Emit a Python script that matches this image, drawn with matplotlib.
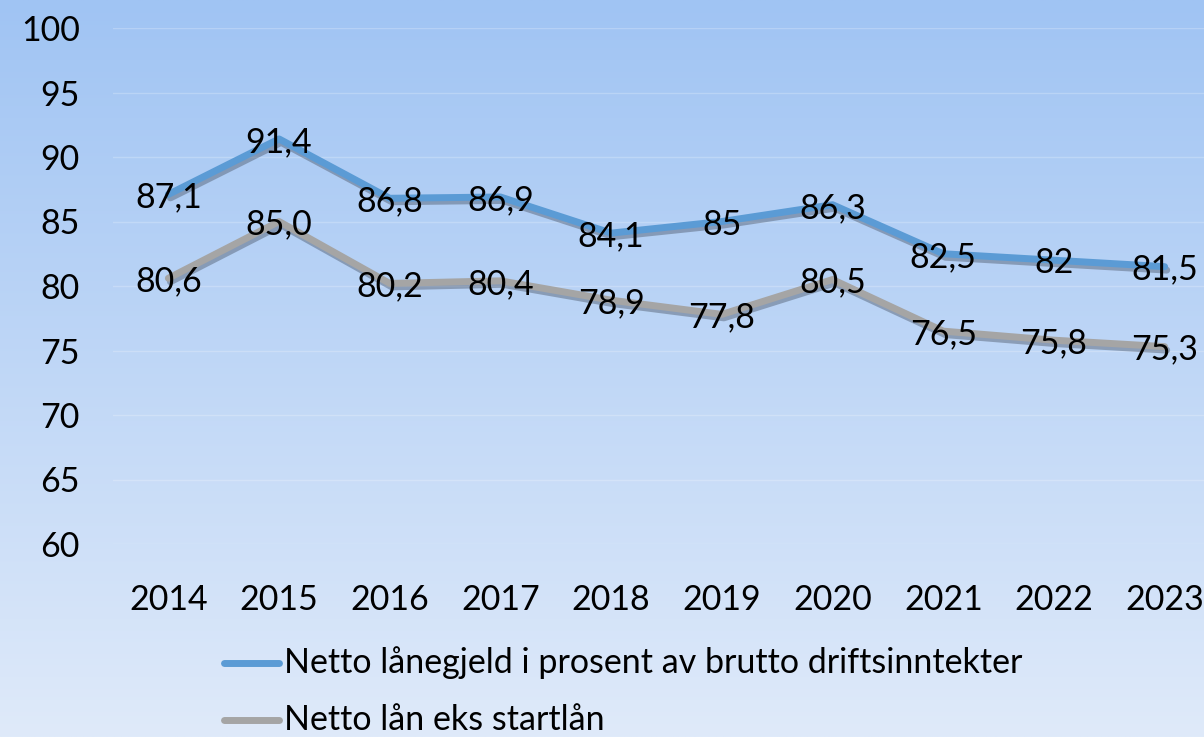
import numpy as np
import matplotlib
matplotlib.use("Agg")
import matplotlib.pyplot as plt
import matplotlib.patheffects as pe

years = ["2014", "2015", "2016", "2017", "2018", "2019", "2020", "2021", "2022", "2023"]
netto_lanegjeld = [87.1, 91.4, 86.8, 86.9, 84.1, 85.0, 86.3, 82.5, 82.0, 81.5]
netto_lanegjeld_labels = ["87,1", "91,4", "86,8", "86,9", "84,1", "85", "86,3", "82,5", "82", "81,5"]
netto_lan_eks = [80.6, 85.0, 80.2, 80.4, 78.9, 77.8, 80.5, 76.5, 75.8, 75.3]
netto_lan_eks_labels = ["80,6", "85,0", "80,2", "80,4", "78,9", "77,8", "80,5", "76,5", "75,8", "75,3"]
series_names = ["Netto lånegjeld i prosent av brutto driftsinntekter", "Netto lån eks startlån"]
yticks = [60, 65, 70, 75, 80, 85, 90, 95, 100]

plt.rcParams['font.family'] = ['Lato', 'DejaVu Sans']
FS = 24.5

W, H = 1204, 737
fig = plt.figure(figsize=(W / 100, H / 100), dpi=100)

# gradient background
bg = fig.add_axes([0, 0, 1, 1], zorder=-10)
top = np.array([160, 196, 243]) / 255
bot = np.array([223, 234, 250]) / 255
t = np.linspace(0, 1, 256)[:, None]
grad = top[None, :] * (1 - t) + bot[None, :] * t
bg.imshow(grad[:, None, :].repeat(4, axis=1), aspect='auto', extent=[0, 1, 0, 1])
bg.set_axis_off()

left = 113 / W
right_px = 1220
ax_bottom = 1 - 544 / H
ax_top = 1 - 28 / H
ax = fig.add_axes([left, ax_bottom, (right_px - 113) / W, ax_top - ax_bottom])
ax.patch.set_alpha(0)
ax.set_ylim(60, 100)
ax.set_xlim(-0.5, len(years) - 0.5)
ax.set_yticks(yticks)
ax.set_yticklabels([str(v) for v in yticks], fontsize=FS)
ax.set_xticks(range(len(years)))
ax.set_xticklabels(years, fontsize=FS)
ax.tick_params(axis='both', length=0)
ax.tick_params(axis='x', pad=29)
ax.tick_params(axis='y', pad=24)
for s in ax.spines.values():
    s.set_visible(False)
ax.grid(axis='y', color='white', alpha=0.22, linewidth=1.0)
ax.set_axisbelow(True)

x = np.arange(len(years))
shadow = [pe.SimpleLineShadow(offset=(1.5, -2.5), shadow_color='#404a5a', alpha=0.4), pe.Normal()]
l1, = ax.plot(x, netto_lanegjeld, color='#5b9bd5', lw=5, solid_capstyle='round',
              solid_joinstyle='round', path_effects=shadow, zorder=3, clip_on=False)
l2, = ax.plot(x, netto_lan_eks, color='#a5a5a5', lw=5, solid_capstyle='round',
              solid_joinstyle='round', path_effects=shadow, zorder=3, clip_on=False)

for xi, v, lab in zip(x, netto_lanegjeld, netto_lanegjeld_labels):
    ax.annotate(lab, (xi, v), xytext=(0, -2.2), textcoords='offset points',
                ha='center', va='center', fontsize=FS, zorder=5)
for xi, v, lab in zip(x, netto_lan_eks, netto_lan_eks_labels):
    ax.annotate(lab, (xi, v), xytext=(0, -2.2), textcoords='offset points',
                ha='center', va='center', fontsize=FS, zorder=5)

# legend drawn manually in figure pixels
def fx(px):
    return px / W

def fy(py):
    return 1 - py / H

for (line_color, name, ypx) in [('#5b9bd5', series_names[0], 663), ('#a5a5a5', series_names[1], 720)]:
    fig.lines.append(plt.Line2D([fx(224), fx(279)], [fy(ypx), fy(ypx)], color=line_color, lw=5,
                                solid_capstyle='round', transform=fig.transFigure))
    fig.text(fx(284), fy(ypx), name, ha='left', va='center', fontsize=FS)

fig.savefig("out.png", dpi=100)
